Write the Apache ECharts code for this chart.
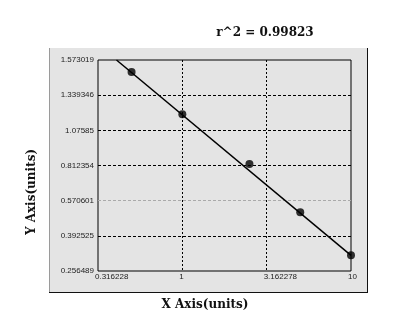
<!DOCTYPE html>
<html>
<head>
<meta charset="utf-8">
<script src="https://cdn.jsdelivr.net/npm/echarts@6/dist/echarts.min.js"></script>
<style>
html,body{margin:0;padding:0;background:#fff;}
#chart{width:416px;height:317px;}
</style>
</head>
<body>
<div id="chart"></div>
<script>
// ---- data ----
const xTickLabels = ['0.316228', '1', '3.162278', '10'];
const yTickValues = [0.256489, 0.392525, 0.570601, 0.812354, 1.07585, 1.339346, 1.573019];
const yTickLabels = ['0.256489', '0.392525', '0.570601', '0.812354', '1.07585', '1.339346', '1.573019'];
const pointX = [0.5, 1, 2.5, 5, 10];
const pointY = [1.493, 1.196, 0.823, 0.512, 0.317];
const fitX = [0.407, 10];
const fitY = [1.573019, 0.317];
const r2Text = 'r^2 = 0.99823';
const xName = 'X Axis(units)';
const yName = 'Y Axis(units)';

// y axis of the reference has evenly spaced tick labels: map value -> tick position
function yPos(v) {
  const t = yTickValues;
  for (let i = 0; i < t.length - 1; i++) {
    if (v <= t[i + 1] || i === t.length - 2) {
      return i + (v - t[i]) / (t[i + 1] - t[i]);
    }
  }
}
const pts = pointX.map((x, i) => [Math.log10(x), yPos(pointY[i])]);
const fit = fitX.map((x, i) => [Math.log10(x), yPos(fitY[i])]);

const chart = echarts.init(document.getElementById('chart'), null, {renderer: 'canvas'});
const serif = 'DejaVu Serif';
const sans = 'Liberation Sans';
chart.setOption({
  animation: false,
  backgroundColor: '#ffffff',
  grid: {left: 98, top: 60, width: 253, height: 211, show: true, borderColor: '#000', borderWidth: 1, backgroundColor: 'transparent'},
  xAxis: {
    type: 'value', min: -0.5, max: 1, interval: 0.5,
    axisLine: {show: false}, axisTick: {show: false},
    axisLabel: {
      fontFamily: sans, fontSize: 8, color: '#222', margin: 2, align: 'left',
      padding: [0, 0, 0, -3],
      formatter: v => xTickLabels[Math.round((v + 0.5) / 0.5)]
    },
    splitLine: {show: true, showMinLine: false, showMaxLine: false, lineStyle: {color: '#000', width: 1, type: [2, 2]}}
  },
  yAxis: {
    type: 'value', min: 0, max: 6, interval: 1,
    axisLine: {show: false}, axisTick: {show: false},
    axisLabel: {
      fontFamily: sans, fontSize: 8, color: '#222', margin: 4,
      formatter: v => yTickLabels[Math.round(v)]
    },
    splitLine: {show: true, showMinLine: false, showMaxLine: false, lineStyle: {color: ['#000', '#aaa', '#000', '#000', '#000'], width: 1, type: [3, 2]}}
  },
  graphic: [
    {type: 'rect', z: -10, silent: true, shape: {x: 49, y: 48, width: 319, height: 244}, style: {fill: '#e4e4e4'}},
    {type: 'line', z: -5, shape: {x1: 49.5, y1: 48, x2: 49.5, y2: 292}, style: {stroke: '#9a9a9a', lineWidth: 1}},
    {type: 'line', z: -5, shape: {x1: 49, y1: 292.5, x2: 368, y2: 292.5}, style: {stroke: '#111', lineWidth: 1}},
    {type: 'line', z: -5, shape: {x1: 367.5, y1: 48, x2: 367.5, y2: 293}, style: {stroke: '#111', lineWidth: 1}},
    {type: 'text', x: 265, y: 33, style: {text: r2Text, fontFamily: serif, fontWeight: 'bold', fontSize: 12, fill: '#111', align: 'center', verticalAlign: 'middle'}},
    {type: 'text', x: 205, y: 305, style: {text: xName, fontFamily: serif, fontWeight: 'bold', fontSize: 12, fill: '#111', align: 'center', verticalAlign: 'middle'}},
    {type: 'text', x: 32, y: 192, rotation: Math.PI / 2, style: {text: yName, fontFamily: serif, fontWeight: 'bold', fontSize: 12, fill: '#111', align: 'center', verticalAlign: 'middle'}}
  ],
  series: [
    {type: 'line', data: fit, showSymbol: false, symbol: 'none', lineStyle: {color: '#000', width: 1.5}, silent: true, z: 3},
    {type: 'scatter', data: pts, symbol: 'circle', symbolSize: 8, itemStyle: {color: '#000'}, z: 4}
  ]
});
</script>
</body>
</html>
